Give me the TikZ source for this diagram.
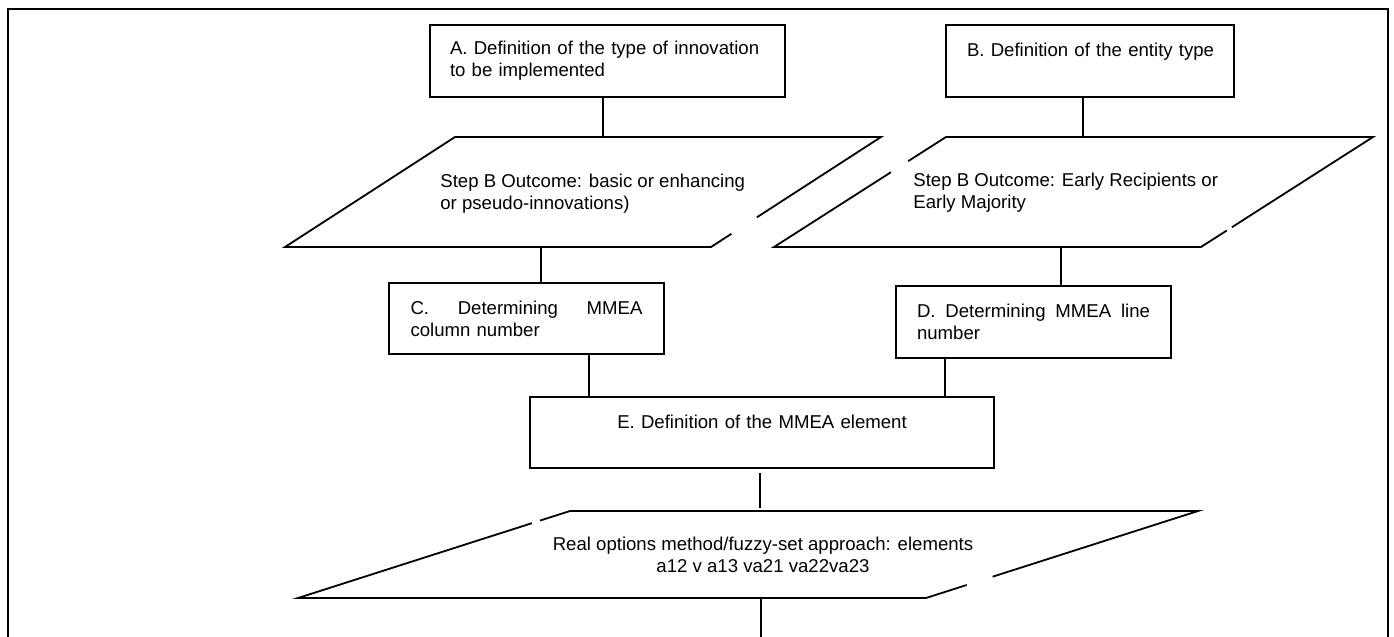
\documentclass[tikz,border=0pt]{standalone}
\usepackage{fontspec}
\setmainfont{Liberation Sans}
\usetikzlibrary{calc}

\begin{document}
\begin{tikzpicture}[x=0.5pt, y=-0.5pt,
  stepbox/.style={draw, line width=1pt, inner ysep=0pt, align=left,
    font=\fontsize{9.3}{11}\selectfont},
  steptext/.style={inner sep=0pt, align=left, font=\fontsize{9.3}{11}\selectfont},
  link/.style={line width=0.6pt},
  slant/.style={line width=0.9pt}]
  \useasboundingbox (0,0) rectangle (1394,637);
  % frame, open at the bottom
  \draw[line width=1.2pt] (8,637) -- (8,9) -- (1388,9) -- (1388,637);

  % boxes
  \node[stepbox, minimum width=177.5pt, minimum height=36pt, text width=157.5pt, inner xsep=10pt]
    (A) at (607.5,61) {A. Definition of the type of innovation\\to be implemented};
  \node[stepbox, minimum width=144pt, minimum height=36pt, text width=123pt, inner xsep=10.5pt]
    (B) at (1090,61) {\mbox{B. Definition of the entity type}\\~};
  \node[stepbox, minimum width=137.5pt, minimum height=35.5pt, text width=116pt, inner xsep=10.75pt]
    (C) at (526.5,318.5) {\hbox to 116pt{C.\hfill Determining\hfill MMEA}\\column number};
  \node[stepbox, minimum width=137.5pt, minimum height=36pt, text width=116.5pt, inner xsep=10.25pt]
    (D) at (1033.5,322) {\hbox to 116.5pt{D.\hfill Determining\hfill MMEA\hfill line}\\number};
  \node[stepbox, minimum width=232pt, minimum height=35.5pt, text width=212pt, inner xsep=10pt, align=center]
    (E) at (762,432.5) {E. Definition of the MMEA element\\~};

  % parallelogram 1
  \coordinate (TL1) at (455,137); \coordinate (TR1) at (881,137);
  \coordinate (BR1) at (711,247); \coordinate (BL1) at (285,247);
  \draw[slant] ($(TR1)!0.88!(BR1)$) -- (BR1) -- (BL1) -- (TL1) -- (TR1) -- ($(TR1)!0.73!(BR1)$);
  \node[steptext, anchor=west] (out1) at (440,193.5)
    {Step B Outcome: basic or enhancing\\or pseudo-innovations)};

  % parallelogram 2
  \coordinate (TL2) at (946,137); \coordinate (TR2) at (1373,137);
  \coordinate (BR2) at (1201,247); \coordinate (BL2) at (774,247);
  \draw[slant] ($(TL2)!0.22!(BL2)$) -- (TL2) -- (TR2) -- ($(TR2)!0.82!(BR2)$);
  \draw[slant] ($(TR2)!0.85!(BR2)$) -- (BR2) -- (BL2) -- ($(TL2)!0.32!(BL2)$);
  \node[steptext, anchor=west] (out2) at (913,193)
    {Step B Outcome: Early Recipients or\\Early Majority};

  % parallelogram 3
  \coordinate (TL3) at (570,511); \coordinate (TR3) at (1198,511);
  \coordinate (BR3) at (926,598); \coordinate (BL3) at (298,598);
  \draw[slant] ($(TL3)!0.11!(BL3)$) -- (TL3) -- (TR3) -- ($(TR3)!0.755!(BR3)$);
  \draw[slant] ($(TR3)!0.85!(BR3)$) -- (BR3) -- (BL3) -- ($(TL3)!0.14!(BL3)$);
  \node[steptext, align=center] (out3) at (763,554.5)
    {Real options method/fuzzy-set approach: elements\\a12 v a13 va21 va22va23};

  % connectors
  \coordinate (p1top) at (603,137); \coordinate (p1bot) at (541,247);
  \coordinate (p2top) at (1083,137); \coordinate (p2bot) at (1061,247);
  \coordinate (ce) at (589,0); \coordinate (de) at (945,0);
  \coordinate (p3top) at (760,511); \coordinate (p3bot) at (761,598);
  \coordinate (down) at (761,637);
  \draw[link] (A.south -| p1top) -- (p1top);
  \draw[link] (B.south -| p2top) -- (p2top);
  \draw[link] (p1bot) -- (p1bot |- C.north);
  \draw[link] (p2bot) -- (p2bot |- D.north);
  \draw[link] (C.south -| ce) -- (ce |- E.north);
  \draw[link] (D.south -| de) -- (de |- E.north);
  \draw[link, shorten <=2pt, shorten >=1.5pt] (E.south -| p3top) -- (p3top);
  \draw[link] (p3bot) -- (down);
\end{tikzpicture}
\end{document}
